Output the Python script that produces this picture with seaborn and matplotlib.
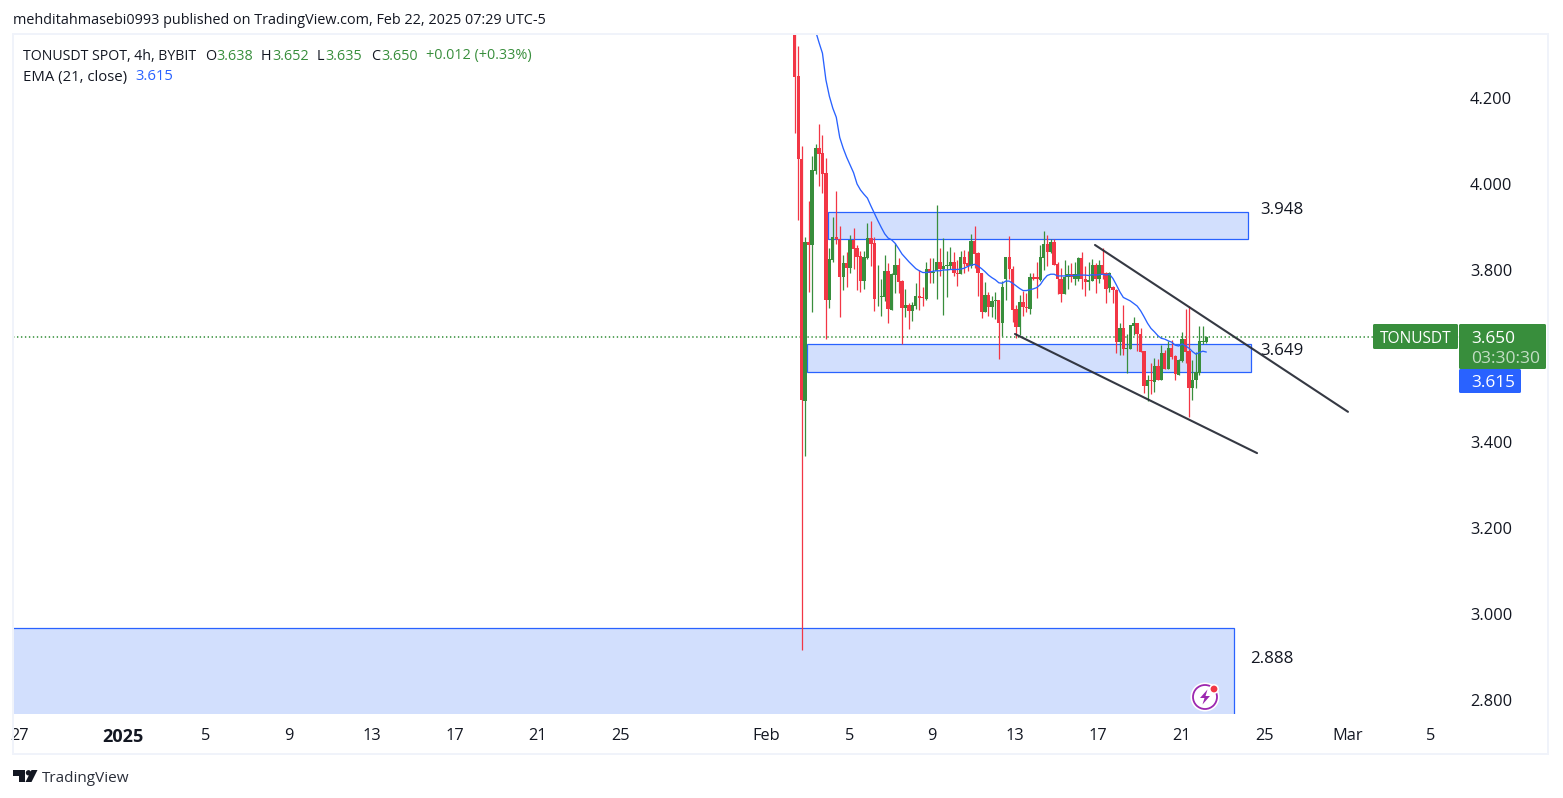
import numpy as np
import pandas as pd
import matplotlib
matplotlib.use("Agg")
import matplotlib.pyplot as plt
import seaborn as sns
from matplotlib.patches import Rectangle, Polygon, Circle, FancyBboxPatch
from matplotlib.transforms import ScaledTranslation, IdentityTransform

# ---------- data ----------
opens = [4.450,4.257,4.063,3.502,3.871,3.865,4.037,4.090,4.077,4.031,
3.736,3.829,3.882,3.879,3.790,3.821,3.810,3.876,3.856,3.838,
3.780,3.834,3.881,3.868,3.742,3.742,3.744,3.804,3.713,3.794,
3.817,3.780,3.718,3.724,3.710,3.722,3.745,3.743,3.738,3.808,
3.800,3.803,3.824,3.808,3.814,3.815,3.824,3.800,3.797,3.836,
3.821,3.814,3.873,3.845,3.798,3.709,3.748,3.720,3.733,3.735,
3.683,3.786,3.835,3.807,3.714,3.674,3.731,3.719,3.716,3.789,
3.789,3.782,3.834,3.866,3.847,3.870,3.820,3.786,3.750,3.790,
3.796,3.784,3.784,3.834,3.786,3.778,3.781,3.818,3.785,3.817,
3.800,3.763,3.767,3.759,3.639,3.672,3.622,3.622,3.676,3.682,
3.658,3.617,3.537,3.550,3.545,3.583,3.550,3.613,3.576,3.624,
3.606,3.562,3.594,3.645,3.618,3.532,3.550,3.567,3.638,3.638]
highs = [4.500,4.327,4.094,3.883,3.966,4.071,4.099,4.145,4.119,4.066,
3.857,3.928,3.989,3.908,3.841,3.847,3.887,3.903,3.864,3.850,
3.850,3.914,3.919,3.882,3.817,3.784,3.841,3.821,3.800,3.868,
3.833,3.783,3.761,3.730,3.732,3.775,3.806,3.767,3.824,3.833,
3.833,3.957,3.856,3.881,3.850,3.859,3.848,3.829,3.850,3.852,
3.850,3.889,3.908,3.847,3.800,3.777,3.755,3.745,3.754,3.735,
3.780,3.836,3.885,3.814,3.724,3.748,3.757,3.752,3.798,3.798,
3.824,3.864,3.897,3.887,3.877,3.879,3.825,3.810,3.829,3.817,
3.821,3.825,3.835,3.848,3.814,3.825,3.831,3.821,3.829,3.858,
3.802,3.802,3.769,3.761,3.682,3.724,3.658,3.679,3.696,3.683,
3.670,3.618,3.562,3.589,3.602,3.600,3.631,3.620,3.641,3.643,
3.608,3.600,3.662,3.714,3.722,3.596,3.616,3.676,3.676,3.652]
lows = [4.124,3.921,2.922,3.373,3.755,3.707,4.030,4.001,3.986,3.646,
3.717,3.824,3.866,3.697,3.759,3.767,3.800,3.808,3.759,3.755,
3.761,3.831,3.814,3.711,3.722,3.700,3.734,3.682,3.713,3.752,
3.753,3.633,3.697,3.669,3.687,3.716,3.712,3.722,3.736,3.775,
3.775,3.738,3.792,3.701,3.744,3.808,3.792,3.769,3.796,3.798,
3.803,3.811,3.810,3.745,3.695,3.707,3.699,3.696,3.693,3.600,
3.652,3.736,3.786,3.686,3.648,3.655,3.699,3.707,3.703,3.782,
3.741,3.781,3.806,3.816,3.846,3.817,3.750,3.732,3.750,3.761,
3.779,3.771,3.780,3.761,3.745,3.759,3.781,3.753,3.775,3.784,
3.730,3.755,3.728,3.612,3.607,3.607,3.566,3.622,3.655,3.618,
3.614,3.519,3.502,3.517,3.523,3.550,3.550,3.576,3.576,3.600,
3.550,3.562,3.593,3.590,3.463,3.504,3.531,3.562,3.633,3.635]
closes = [4.255,4.063,3.503,3.871,3.865,4.038,4.090,4.076,4.029,3.736,
3.831,3.882,3.878,3.790,3.821,3.810,3.876,3.855,3.837,3.780,
3.835,3.881,3.866,3.738,3.744,3.745,3.803,3.714,3.797,3.817,
3.778,3.718,3.724,3.710,3.724,3.745,3.741,3.741,3.808,3.800,
3.802,3.824,3.808,3.815,3.817,3.824,3.800,3.797,3.836,3.820,
3.814,3.873,3.843,3.798,3.709,3.748,3.720,3.733,3.735,3.682,
3.766,3.835,3.807,3.713,3.674,3.731,3.719,3.717,3.789,3.785,
3.784,3.836,3.866,3.847,3.870,3.817,3.785,3.750,3.789,3.796,
3.790,3.796,3.834,3.786,3.779,3.783,3.817,3.785,3.817,3.796,
3.762,3.800,3.759,3.639,3.672,3.622,3.624,3.678,3.682,3.657,
3.614,3.537,3.550,3.548,3.583,3.550,3.613,3.576,3.624,3.603,
3.563,3.596,3.645,3.614,3.532,3.551,3.569,3.641,3.640,3.650]
ema = [4.362,4.335,4.310,4.248,4.210,4.182,4.161,4.114,4.089,4.068,
4.050,4.032,4.006,3.992,3.982,3.973,3.955,3.938,3.921,3.905,
3.890,3.880,3.876,3.868,3.856,3.843,3.834,3.825,3.817,3.809,
3.804,3.800,3.800,3.801,3.803,3.804,3.804,3.806,3.806,3.807,
3.807,3.807,3.808,3.810,3.814,3.817,3.819,3.815,3.809,3.802,
3.794,3.788,3.783,3.776,3.775,3.780,3.780,3.775,3.769,3.763,
3.758,3.758,3.760,3.762,3.765,3.772,3.784,3.793,3.796,3.796,
3.792,3.792,3.792,3.793,3.793,3.793,3.794,3.794,3.794,3.793,
3.795,3.794,3.795,3.796,3.794,3.796,3.786,3.771,3.755,3.742,
3.738,3.734,3.728,3.722,3.711,3.697,3.682,3.670,3.662,3.653,
3.647,3.645,3.641,3.638,3.631,3.629,3.634,3.629,3.624,3.616,
3.610,3.614,3.617,3.615]
y_ticks = [2.8, 3.0, 3.2, 3.4, 3.8, 4.0, 4.2]
x_tick_dates = ["2024-12-27","2025-01-01","2025-01-05","2025-01-09","2025-01-13","2025-01-17",
                "2025-01-21","2025-01-25","2025-02-01","2025-02-05","2025-02-09","2025-02-13",
                "2025-02-17","2025-02-21","2025-02-25","2025-03-01","2025-03-05"]
x_tick_labels = ["27","2025","5","9","13","17","21","25","Feb","5","9","13","17","21","25","Mar","5"]
zone_upper = ("2025-02-03 23:25", "2025-02-24 05:10", 3.877, 3.940)
zone_middle = ("2025-02-02 23:10", "2025-02-24 08:40", 3.569, 3.634)
zone_lower = ("2024-12-20", "2025-02-23 13:00", 2.60, 2.973)
upper_channel = (["2025-02-16 20:15", "2025-03-01 00:50"], [3.864, 3.476])
lower_channel = (["2025-02-12 23:40", "2025-02-24 15:40"], [3.657, 3.380])

FONT = ["Open Sans", "DejaVu Sans"]
INK = "#131722"
GREEN = "#388e3c"
RED = "#f23645"
BLUE = "#2962ff"
FILL = "#d2dffd"
W, H = 1563, 798

sns.set_theme(style="white", rc={"axes.facecolor": "white", "figure.facecolor": "white"})
plt.rcParams["font.family"] = FONT

times = pd.date_range("2025-02-02 09:00", periods=len(opens), freq="4h")
base = pd.Timestamp("2025-01-01")
def day(t):
    return (pd.Timestamp(t) - base) / pd.Timedelta(days=1)
days = np.array([day(t) for t in times])

frame = pd.DataFrame({"day": days, "open": opens, "high": highs, "low": lows, "close": closes})
frame["up"] = frame["close"] >= frame["open"]
colors = np.where(frame["up"], GREEN, RED)

fig = plt.figure(figsize=(W / 100, H / 100), dpi=100)
ax = fig.add_axes([13 / W, 1 - 714 / H, (1459 - 13) / W, (714 - 34) / H])
ax.set_xlim((13 - 123) / 20.75, (1459 - 123) / 20.75)
ax.set_ylim(3.65 - 377 / 430, 3.65 + 303 / 430)

# zones
for z in (zone_upper, zone_middle, zone_lower):
    ax.add_patch(Rectangle((day(z[0]), z[2]), day(z[1]) - day(z[0]), z[3] - z[2],
                           facecolor=FILL, edgecolor=BLUE, linewidth=0.9, zorder=1))

ax.axhline(closes[-1], color="#2e8b33", lw=1.1, ls=(0, (0.9, 1.7)), zorder=2)

# candles
ax.vlines(frame["day"], frame["low"], frame["high"], colors=colors, linewidth=0.9, zorder=3)
bottom = frame[["open", "close"]].min(axis=1)
height = (frame["open"] - frame["close"]).abs().clip(lower=0.002)
ax.bar(frame["day"], height, bottom=bottom, width=0.16, color=colors, linewidth=0, zorder=4)

# EMA
ema_frame = pd.DataFrame({"day": days[-len(ema):], "ema": ema})
sns.lineplot(data=ema_frame, x="day", y="ema", ax=ax, color=BLUE, linewidth=0.95, zorder=5, errorbar=None)
ax.set_xlabel("")
ax.set_ylabel("")

# channel lines
for ch in (upper_channel, lower_channel):
    ax.plot([day(t) for t in ch[0]], ch[1], color="#2a2e39", lw=1.5, alpha=0.95,
            solid_capstyle="round", zorder=6)

# zone labels
for d, p, s in ((54.795, 3.9453, "3.948"), (54.795, 3.6173, "3.649"), (54.313, 2.9013, "2.888")):
    ax.text(d, p, s, color=INK, fontsize=12.2, va="center", ha="left", zorder=7)

# axes
sns.despine(ax=ax, left=True, bottom=True, right=True, top=True)
ax.yaxis.tick_right()
ax.set_yticks(y_ticks)
ax.set_yticklabels([f"{v:.3f}" for v in y_ticks])
ax.set_xticks([day(t) for t in x_tick_dates])
ax.set_xticklabels(x_tick_labels)
ax.tick_params(axis="y", length=0, pad=8, labelsize=11.8, labelcolor=INK)
ax.tick_params(axis="x", length=0, pad=10, labelsize=11.8, labelcolor=INK)
shift = ScaledTranslation(0, 2.0 / 100, fig.dpi_scale_trans)
for lab in ax.get_yticklabels():
    lab.set_transform(lab.get_transform() + shift)
for lab in ax.get_xticklabels():
    if lab.get_text() == "2025":
        lab.set_fontweight("bold")
        lab.set_fontsize(13.0)

# figure overlays in pixel coordinates measured from the top
pix = IdentityTransform()
def T(x, y, s, **kw):
    kw.setdefault("color", INK)
    kw.setdefault("fontsize", 10)
    kw.setdefault("va", "center")
    kw.setdefault("ha", "left")
    return fig.text(x, H - y - 2, s, transform=pix, **kw)
def rect(x0, y0, x1, y1, **kw):
    kw.setdefault("linewidth", 0)
    fig.add_artist(FancyBboxPatch((x0 + 1, H - y1 + 1), x1 - x0 - 2, y1 - y0 - 2,
                                  boxstyle="round,pad=1,rounding_size=1.5", transform=pix, **kw))

# outer frame
for x0, y0, x1, y1 in ((12, 33, 1549, 35), (12, 753, 1549, 755), (12, 33, 14, 755), (1547, 33, 1549, 755)):
    fig.add_artist(Rectangle((x0, H - y1), x1 - x0, y1 - y0, transform=pix, facecolor="#f0f3fa", linewidth=0))

T(13, 19, "mehditahmasebi0993 published on TradingView.com, Feb 22, 2025 07:29 UTC-5", fontsize=10.35)
T(23, 54, "TONUSDT SPOT, 4h, BYBIT", fontsize=10.2)
for x, s, c in ((205, "O", INK), (216, "3.638", GREEN), (261, "H", INK), (272, "3.652", GREEN),
                (317, "L", INK), (325, "3.635", GREEN), (371, "C", INK), (381, "3.650", GREEN),
                (426, "+0.012 (+0.33%)", GREEN)):
    T(x, 54, s, color=c, fontsize=10.4)
T(23, 75, "EMA (21, close)", fontsize=10.7)
T(135, 75, "3.615", color=BLUE, fontsize=10.7)

rect(1373, 324, 1458, 349, facecolor=GREEN)
rect(1459, 324, 1546, 369, facecolor=GREEN)
rect(1459, 369, 1521, 393, facecolor=BLUE)
T(1415.5, 337, "TONUSDT", color="white", fontsize=11.2, ha="center", fontweight="medium")
T(1471, 337, "3.650", color="white", fontsize=12.4, fontweight="medium")
T(1471, 357, "03:30:30", color="#c3ddc4", fontsize=12.6)
T(1471, 381, "3.615", color="white", fontsize=12.4, fontweight="medium")

# TradingView logo
logo = "#131722"
fig.add_artist(Polygon([(13, H - 770), (25, H - 770), (25, H - 782), (19, H - 782), (19, H - 776), (13, H - 776)],
                       closed=True, transform=pix, facecolor=logo, linewidth=0))
fig.add_artist(Circle((28.5, H - 772.8), 2.7, transform=pix, facecolor=logo, linewidth=0))
fig.add_artist(Polygon([(31.5, H - 770), (37.5, H - 770), (31.5, H - 782), (25.5, H - 782)],
                       closed=True, transform=pix, facecolor=logo, linewidth=0))
T(42, 777, "TradingView", fontsize=11.0, color="#2a2e39")

# purple bolt badge
fig.add_artist(Circle((1205, H - 697), 14.5, transform=pix, facecolor="white", linewidth=0))
fig.add_artist(Circle((1205, H - 697), 12, transform=pix, facecolor="white", edgecolor="#9c27b0", linewidth=1.3))
fig.add_artist(Polygon([(1207.5, H - 689.5), (1200, H - 698), (1204.5, H - 698), (1202.5, H - 704.5),
                        (1210, H - 696), (1205.5, H - 696)],
                       closed=True, transform=pix, facecolor="#9c27b0", linewidth=0))
fig.add_artist(Circle((1214, H - 689), 5, transform=pix, facecolor="white", linewidth=0))
fig.add_artist(Circle((1214, H - 689), 3.4, transform=pix, facecolor=RED, linewidth=0))

fig.savefig("out.png", dpi=100)
